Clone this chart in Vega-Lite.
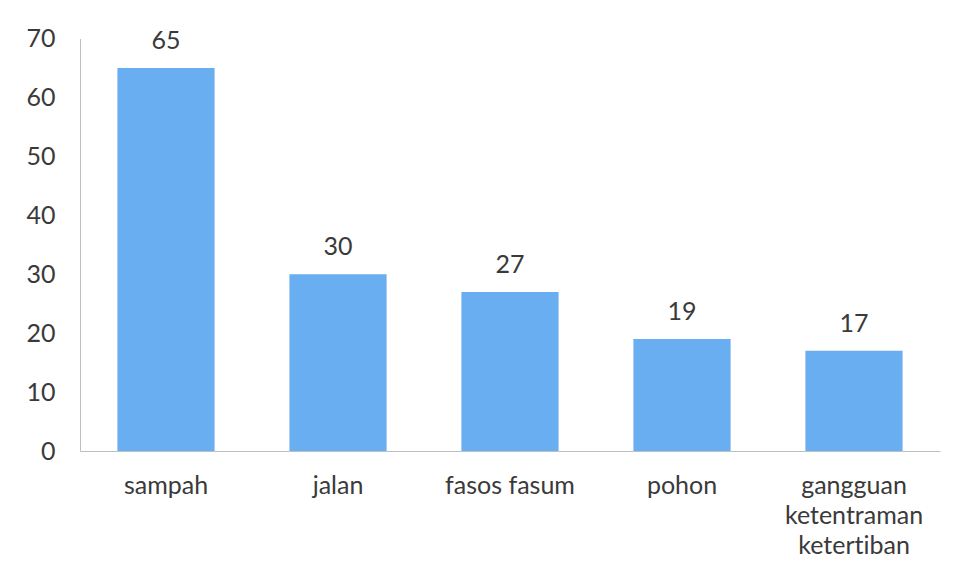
{
  "$schema": "https://vega.github.io/schema/vega-lite/v6.json",
  "width": 860,
  "height": 412.5,
  "autosize": {"type": "none"},
  "padding": {"left": 80, "top": 38.5, "right": 25, "bottom": 126},
  "background": "white",
  "data": {
    "values": [
      {"kategori": "sampah", "jumlah": 65},
      {"kategori": "jalan", "jumlah": 30},
      {"kategori": "fasos fasum", "jumlah": 27},
      {"kategori": "pohon", "jumlah": 19},
      {"kategori": "gangguan ketentraman ketertiban", "jumlah": 17}
    ]
  },
  "encoding": {
    "x": {
      "field": "kategori",
      "type": "nominal",
      "sort": null,
      "scale": {"paddingInner": 0.435, "paddingOuter": 0.2175},
      "axis": {
        "title": null,
        "labelAngle": 0,
        "ticks": false,
        "domainColor": "#bfbfbf",
        "domainWidth": 1,
        "labelFont": "Lato",
        "labelFontSize": 25,
        "labelColor": "#3a3a3a",
        "labelBaseline": "alphabetic",
        "labelPadding": 42,
        "labelLineHeight": 30,
        "labelExpr": "datum.label == 'gangguan ketentraman ketertiban' ? ['gangguan', 'ketentraman', 'ketert\u200ciban'] : datum.label"
      }
    },
    "y": {
      "field": "jumlah",
      "type": "quantitative",
      "scale": {"domain": [0, 70], "nice": false},
      "axis": {
        "title": null,
        "values": [0, 10, 20, 30, 40, 50, 60, 70],
        "grid": false,
        "ticks": false,
        "domainColor": "#bfbfbf",
        "domainWidth": 1,
        "labelFont": "Lato",
        "labelFontSize": 25,
        "labelColor": "#3a3a3a",
        "labelPadding": 25
      }
    }
  },
  "layer": [
    {"mark": {"type": "bar", "color": "#69aef0"}},
    {
      "mark": {
        "type": "text",
        "font": "Lato",
        "fontSize": 25,
        "color": "#3a3a3a",
        "baseline": "alphabetic",
        "dy": -19
      },
      "encoding": {"text": {"field": "jumlah", "type": "quantitative"}}
    }
  ],
  "config": {"view": {"stroke": null}}
}
